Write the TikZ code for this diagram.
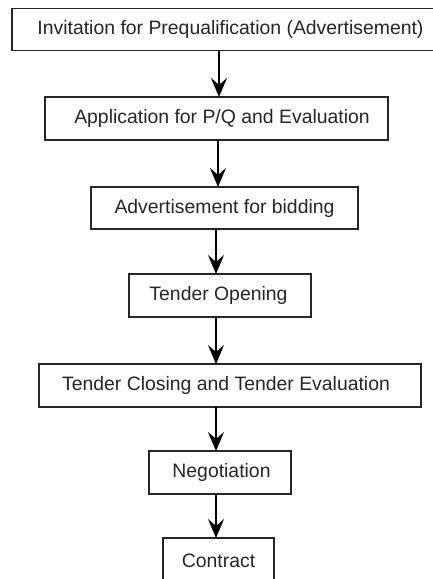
\documentclass[tikz,border=0pt]{standalone}
\usepackage{fontspec}
\setmainfont{Liberation Sans}
\usetikzlibrary{arrows.meta}
\begin{document}
\begin{tikzpicture}[x=1pt,y=-1pt,
  stepbox/.style={draw=black!85,line width=1.1pt,inner sep=0pt,outer sep=0pt,
    font=\fontsize{19.4}{22}\selectfont,text=black!85},
  arr/.style={draw=black,line width=1.1pt,-{Stealth[length=19pt,width=16pt,inset=7pt]}}]
\useasboundingbox (0,0) rectangle (433,579);
\clip (0,0) rectangle (433,579);
\fill[white] (0,0) rectangle (433,579);
\node[stepbox,minimum width=437pt,minimum height=42pt] (b1) at (230.5,29.5) {Invitation for Prequalification (Advertisement)};
\node[stepbox,minimum width=343pt,minimum height=43pt] (b2) at (216.5,118.5) {\hspace*{11pt}Application for P/Q and Evaluation};
\node[stepbox,minimum width=267pt,minimum height=42pt] (b3) at (224.5,208) {Advertisement for bidding};
\node[stepbox,minimum width=182pt,minimum height=43pt] (b4) at (220,295.5) {Tender Opening\hspace*{3pt}};
\node[stepbox,minimum width=382pt,minimum height=43pt] (b5) at (230,385.5) {Tender Closing and Tender Evaluation\hspace*{8pt}};
\node[stepbox,minimum width=142pt,minimum height=43pt] (b6) at (220,472.5) {\hspace*{3pt}Negotiation};
\node[stepbox,minimum width=111pt,minimum height=45pt] (b7) at (218.5,560.5) {Contract};
\draw[arr] ([xshift=2.5pt]b2.north |- b1.south) -- ([xshift=2.5pt]b2.north);
\draw[arr] ([xshift=1.5pt]b2.south) -- ([xshift=1.5pt]b2.south |- b3.north);
\draw[arr] ([xshift=-4pt]b4.north |- b3.south) -- ([xshift=-4pt]b4.north);
\draw[arr] ([xshift=-4pt]b4.south) -- ([xshift=-4pt]b4.south |- b5.north);
\draw[arr] ([xshift=-4pt]b6.north |- b5.south) -- ([xshift=-4pt]b6.north);
\draw[arr] ([xshift=-4pt]b6.south) -- ([xshift=-4pt]b6.south |- b7.north);
\end{tikzpicture}
\end{document}
